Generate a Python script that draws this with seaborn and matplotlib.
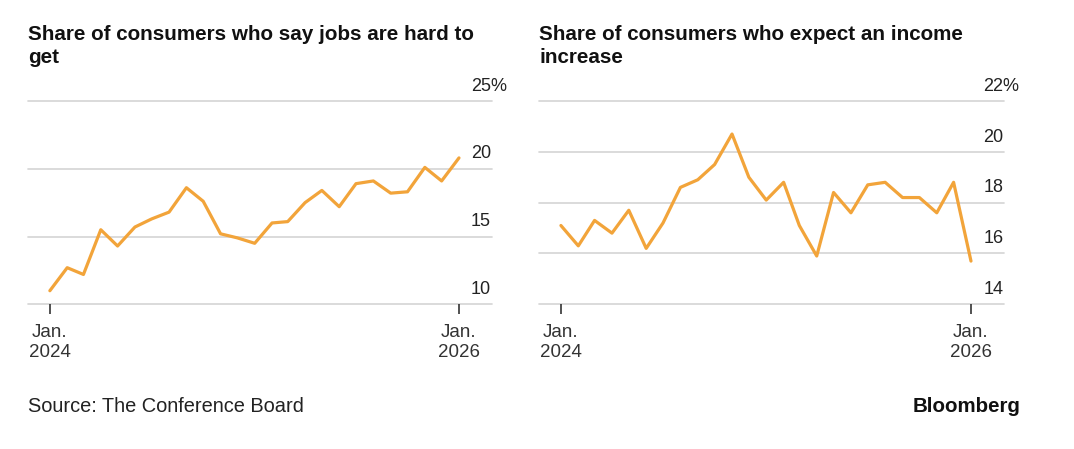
import pandas as pd
import numpy as np
import seaborn as sns
import matplotlib.pyplot as plt
import matplotlib.transforms as mtransforms

# %%
months = pd.date_range("2024-01-01", "2026-01-01", freq="MS")

jobs_hard = [11.0, 12.7, 12.2, 15.5, 14.3, 15.7, 16.3, 16.8, 18.6, 17.6, 15.2, 14.9, 14.5,
             16.0, 16.1, 17.5, 18.4, 17.2, 18.9, 19.1, 18.2, 18.3, 20.1, 19.1, 20.8]
income_up = [17.1, 16.3, 17.3, 16.8, 17.7, 16.2, 17.2, 18.6, 18.9, 19.5, 20.7, 19.0, 18.1,
             18.8, 17.1, 15.9, 18.4, 17.6, 18.7, 18.8, 18.2, 18.2, 17.6, 18.8, 15.7]

jobs_ticks = [10, 15, 20, 25]
income_ticks = [14, 16, 18, 20, 22]

titles = ["Share of consumers who say jobs are hard to\nget",
          "Share of consumers who expect an income\nincrease"]

df = pd.DataFrame({"month": months, "jobs": jobs_hard, "income": income_up})

# %%
sns.set_theme(style="white")
plt.rcParams["font.family"] = ["Liberation Sans", "DejaVu Sans"]

fig = plt.figure(figsize=(10.74, 4.49), dpi=100)
ax1 = fig.add_axes([0.0261, 0.3223, 0.432, 0.4528])
ax2 = fig.add_axes([0.5019, 0.3223, 0.433, 0.4528])

line_color = "#F2A43A"
grid_color = "#d4d4d4"

for ax, col, ticks, title in [(ax1, "jobs", jobs_ticks, titles[0]),
                              (ax2, "income", income_ticks, titles[1])]:
    sns.lineplot(data=df, x="month", y=col, ax=ax, color=line_color, linewidth=2.3)
    ax.set_ylim(ticks[0], ticks[-1])
    ax.set_xlim(pd.Timestamp("2023-11-23"), pd.Timestamp("2026-03-01"))
    for t in ticks:
        ax.axhline(t, color=grid_color, linewidth=1.2, zorder=0, clip_on=False)
    # y labels sit above the gridlines, at the right
    trans = mtransforms.blended_transform_factory(ax.transAxes, ax.transData)
    off = mtransforms.offset_copy(trans, fig=fig, y=4.5, units="points")
    for i, t in enumerate(ticks):
        lab = f"{t}%" if i == len(ticks) - 1 else f"{t}"
        ax.text(0.955, t, lab, transform=off, ha="left", va="bottom",
                fontsize=13, color="#222222")
    ax.set_yticks([])
    ax.set_xticks([pd.Timestamp("2024-01-01"), pd.Timestamp("2026-01-01")])
    ax.set_xticklabels(["Jan.\n2024", "Jan.\n2026"], fontsize=13.5, color="#333333",
                       linespacing=1.25)
    ax.tick_params(axis="x", bottom=True, length=7, width=1.2, color="#333333", pad=7)
    ax.set_xlabel("")
    ax.set_ylabel("")
    for s in ax.spines.values():
        s.set_visible(False)
    ax.text(0.0, 1.374, title, transform=ax.transAxes, ha="left", va="top",
            fontsize=14.9, fontweight="bold", color="#111111", linespacing=1.28)

fig.text(28 / 1074, 1 - 407 / 449, "Source: The Conference Board", ha="left", va="center",
         fontsize=14.4, color="#222222")
fig.text(1020 / 1074, 1 - 407 / 449, "Bloomberg", ha="right", va="center",
         fontsize=14.8, fontweight="bold", color="#111111")

fig.savefig("out.png", dpi=100, facecolor="white")
